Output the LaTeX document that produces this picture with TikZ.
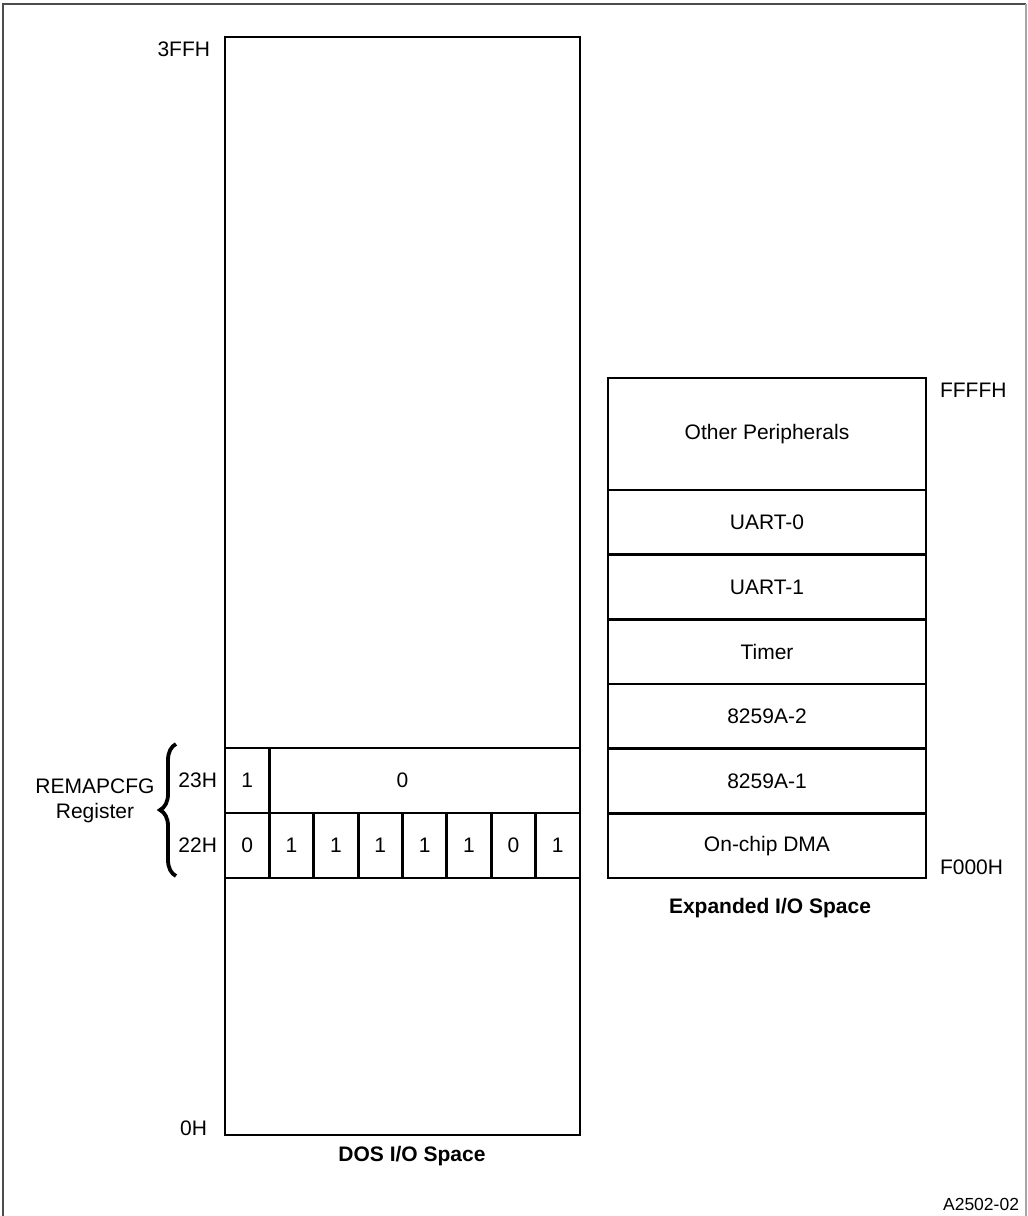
\documentclass[tikz,border=0pt]{standalone}
\usepackage{fontspec}
\setmainfont{Liberation Sans}
\usetikzlibrary{positioning, decorations.pathreplacing}
\newcommand{\lblfont}{\fontsize{10.5}{12.5}\selectfont}

\tikzset{
  box/.style={draw, line width=1.4pt, inner sep=0pt, outer sep=0pt},
  expcell/.style={box, minimum width=159pt, minimum height=32.33pt},
  bitcell/.style={box, minimum width=22.19pt, minimum height=32.5pt},
  addr/.style={inner sep=0pt, outer sep=0pt},
  title/.style={inner sep=0pt, font=\lblfont\bfseries},
}

\begin{document}
\begin{tikzpicture}[x=0.5pt, y=-0.5pt, font=\lblfont]
    \useasboundingbox (0,0) rectangle (1028,1216);
    % frame
    \draw[black!70, line width=0.75pt] (3,1216) |- (1026,4);
    \draw[black!35, line width=0.75pt] (1026,4) -- (1026,1216);

    % DOS I/O space
    \node[box, minimum width=177.5pt, minimum height=549pt, anchor=north west] (dos) at (225,37) {};
    \node[addr, anchor=east] (a3ff) at (210,49) {3FFH};
    \node[addr, anchor=east] (a0) at (207,1128) {0H};
    \node[title] (doslbl) at (412,1156) {DOS I/O Space};

    % REMAPCFG register
    \node[box, minimum width=177.5pt, minimum height=32.5pt, anchor=north west] (row23) at (225,748) {0};
    \node[bitcell, anchor=north west] (b23) at (row23.north west) {1};
    \foreach \b [count=\i from 0] in {0,1,1,1,1,1,0,1}
      \node[bitcell, anchor=north west] (b22-\i) at ([xshift=\i*22.1875pt]row23.south west) {\b};
    \node[addr, left=4pt of row23] (a23) {23H};
    \node[addr, left=4pt of b22-0] (a22) {22H};
    \coordinate (brtop) at (176,744);
    \coordinate (brbot) at (176,876);
    \draw[line width=1.9pt, decorate, decoration={brace, amplitude=8pt}] (brbot) -- (brtop);
    \node[align=center, inner sep=0pt] (remap) at (95,801) {REMAPCFG\\Register};

    % expanded I/O space
    \node[expcell, minimum height=56pt, anchor=north west] (other) at (608,378) {Other Peripherals};
    \node[expcell, below=0pt of other] (uart0) {UART-0};
    \node[expcell, below=0pt of uart0] (uart1) {UART-1};
    \node[expcell, below=0pt of uart1] (timer) {Timer};
    \node[expcell, below=0pt of timer] (pic2) {8259A-2};
    \node[expcell, below=0pt of pic2] (pic1) {8259A-1};
    \node[expcell, below=0pt of pic1] (dma) {On-chip DMA};
    \node[addr, anchor=west] (affff) at (940,390) {FFFFH};
    \node[addr, anchor=west] (af000) at (940,867) {F000H};
    \node[title] (explbl) at (770,908) {Expanded I/O Space};

    \node[addr, anchor=east, font=\fontsize{8.75}{10}\selectfont] (figid) at (1019,1204) {A2502-02};
\end{tikzpicture}
\end{document}
